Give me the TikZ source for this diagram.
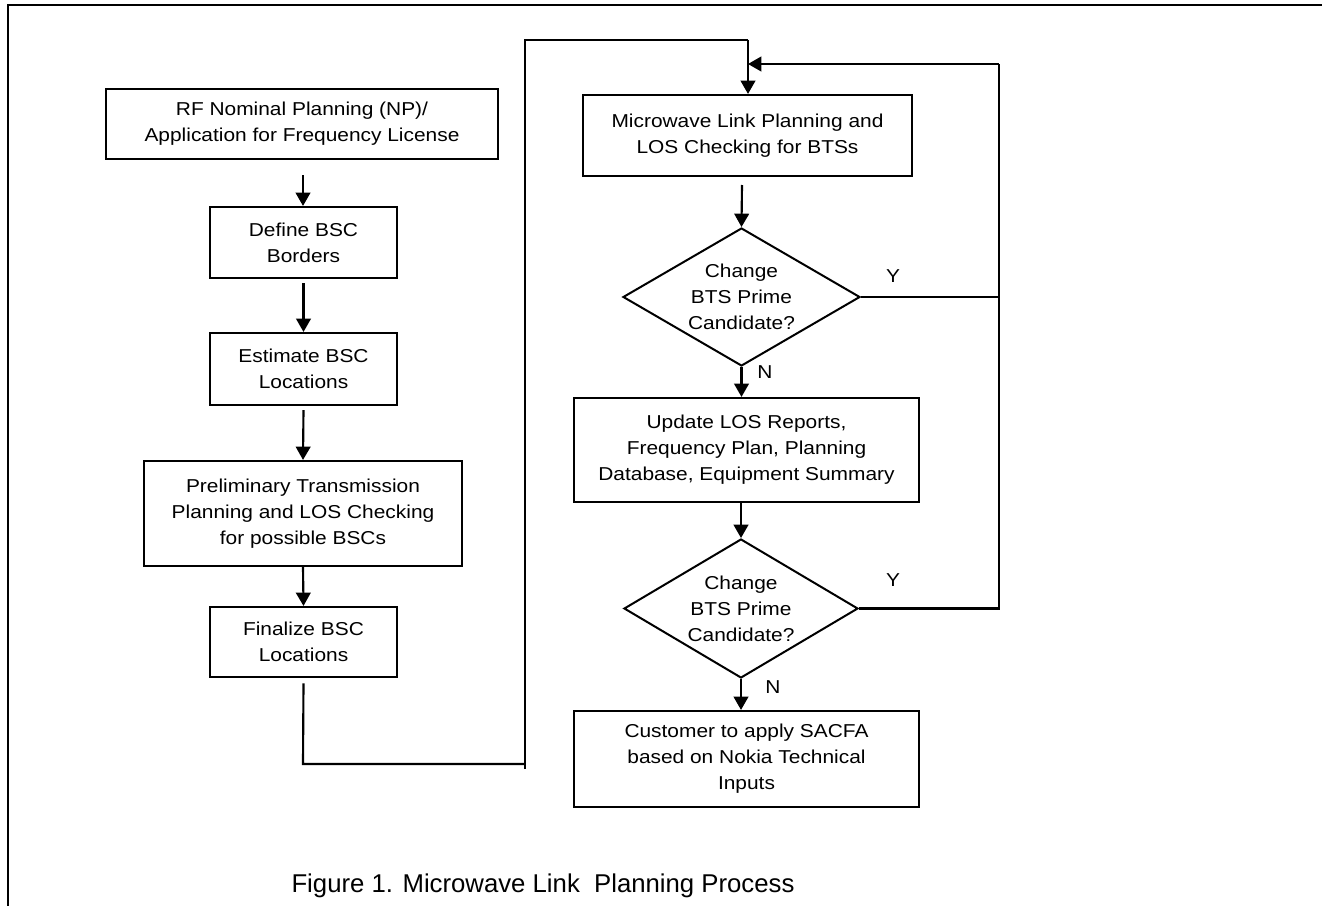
\documentclass[tikz,border=0pt]{standalone}
\usepackage{fontspec}
\setmainfont{Liberation Sans}[FakeStretch=1.12]
\newfontfamily\capfont{Liberation Sans}
\usetikzlibrary{shapes.geometric,arrows.meta}
\begin{document}
\begin{tikzpicture}[x=0.75pt,y=-0.75pt,
  txt/.style={font=\fontsize{14}{19.5}\selectfont},
  box/.style={draw,line width=1.6pt,rectangle,align=center,inner sep=0pt,txt},
  dec/.style={draw,line width=1.5pt,diamond,aspect=1.72,inner sep=0pt,align=center,txt},
  conn/.style={line width=1.6pt},
  arr/.style={conn,-{Triangle[width=11pt,length=10pt]}},
  lbl/.style={txt,inner sep=0pt}]
\useasboundingbox (0,0) rectangle (1322,906);
% outer frame
\draw[line width=1.3pt] (8,906) -- (8,5) -- (1322,5);

% left column
\node[box,minimum width=294pt,minimum height=52.5pt] (b1) at (302,124) {RF Nominal Planning (NP)/\\Application for Frequency License};
\node[box,minimum width=140.25pt,minimum height=53.25pt] (b2) at (303.5,242.5) {Define BSC\\Borders};
\node[box,minimum width=140.25pt,minimum height=54pt] (b3) at (303.5,369) {Estimate BSC\\Locations};
\node[box,minimum width=238.5pt,minimum height=78.75pt] (b4) at (303,513.5) {Preliminary Transmission\\Planning and LOS Checking\\for possible BSCs};
\node[box,minimum width=140.25pt,minimum height=52.5pt] (b5) at (303.5,642) {Finalize BSC\\Locations};

% right column
\node[box,minimum width=246.75pt,minimum height=60.75pt] (b6) at (747.5,135.5) {Microwave Link Planning and\\LOS Checking for BTSs};
\node[dec,minimum width=177.75pt,minimum height=103.5pt] (d1) at (741.5,297) {Change\\BTS Prime\\Candidate?};
\node[box,minimum width=258.75pt,minimum height=78pt] (b7) at (746.5,450) {Update LOS Reports,\\Frequency Plan, Planning\\Database, Equipment Summary};
\node[dec,minimum width=175.5pt,minimum height=104.25pt] (d2) at (741,608.5) {Change\\BTS Prime\\Candidate?};
\node[box,minimum width=258.75pt,minimum height=72pt] (b8) at (746.5,759) {Customer to apply SACFA\\based on Nokia Technical\\Inputs};

% labels
\node[lbl] (y1) at (893,276) {Y};
\node[lbl] (n1) at (765,372) {N};
\node[lbl] (y2) at (893,580) {Y};
\node[lbl] (n2) at (773,687) {N};

% caption
\node[font=\capfont\fontsize{19.3}{23}\selectfont,anchor=base,inner sep=0pt] (cap) at (543,892) {Figure 1. Microwave Link\ \ Planning Process};

% coordinates
\coordinate (s1) at (303,175);
\coordinate (s6) at (742,185);
\coordinate (p1) at (303,764);
\coordinate (p2) at (525,764);
\coordinate (p3) at (525,769);
\coordinate (p4) at (525,40);
\coordinate (p5) at (748,40);
\coordinate (loopTop) at (999,64);
\coordinate (entry) at (748,64);

% left connectors
\draw[arr] (s1) -- (s1 |- b2.north);
\draw[arr] ([yshift=-3pt]b2.south) -- (b3.north);
\draw[arr] ([yshift=-3pt]b3.south) -- (b4.north);
\draw[arr] (b4.south) -- (b5.north);
\draw[conn] ([yshift=-4pt]b5.south) -- (p1) -- (p2);
\draw[conn] (p3) -- (p4) -- (p5);
\draw[arr] (p5) -- (p5 |- b6.north);

% right connectors
\draw[arr] (s6) -- (d1.north);
\draw[arr] (d1.south) -- (d1.south |- b7.north);
\draw[arr] (b7.south -| d2.north) -- (d2.north);
\draw[arr] (d2.south) -- (d2.south |- b8.north);
\draw[conn] (d1.east) -- (d1.east -| loopTop);
\draw[conn] (d2.east) -- (d2.east -| loopTop) -- (loopTop);
\draw[arr] (loopTop) -- (entry);
\end{tikzpicture}
\end{document}
